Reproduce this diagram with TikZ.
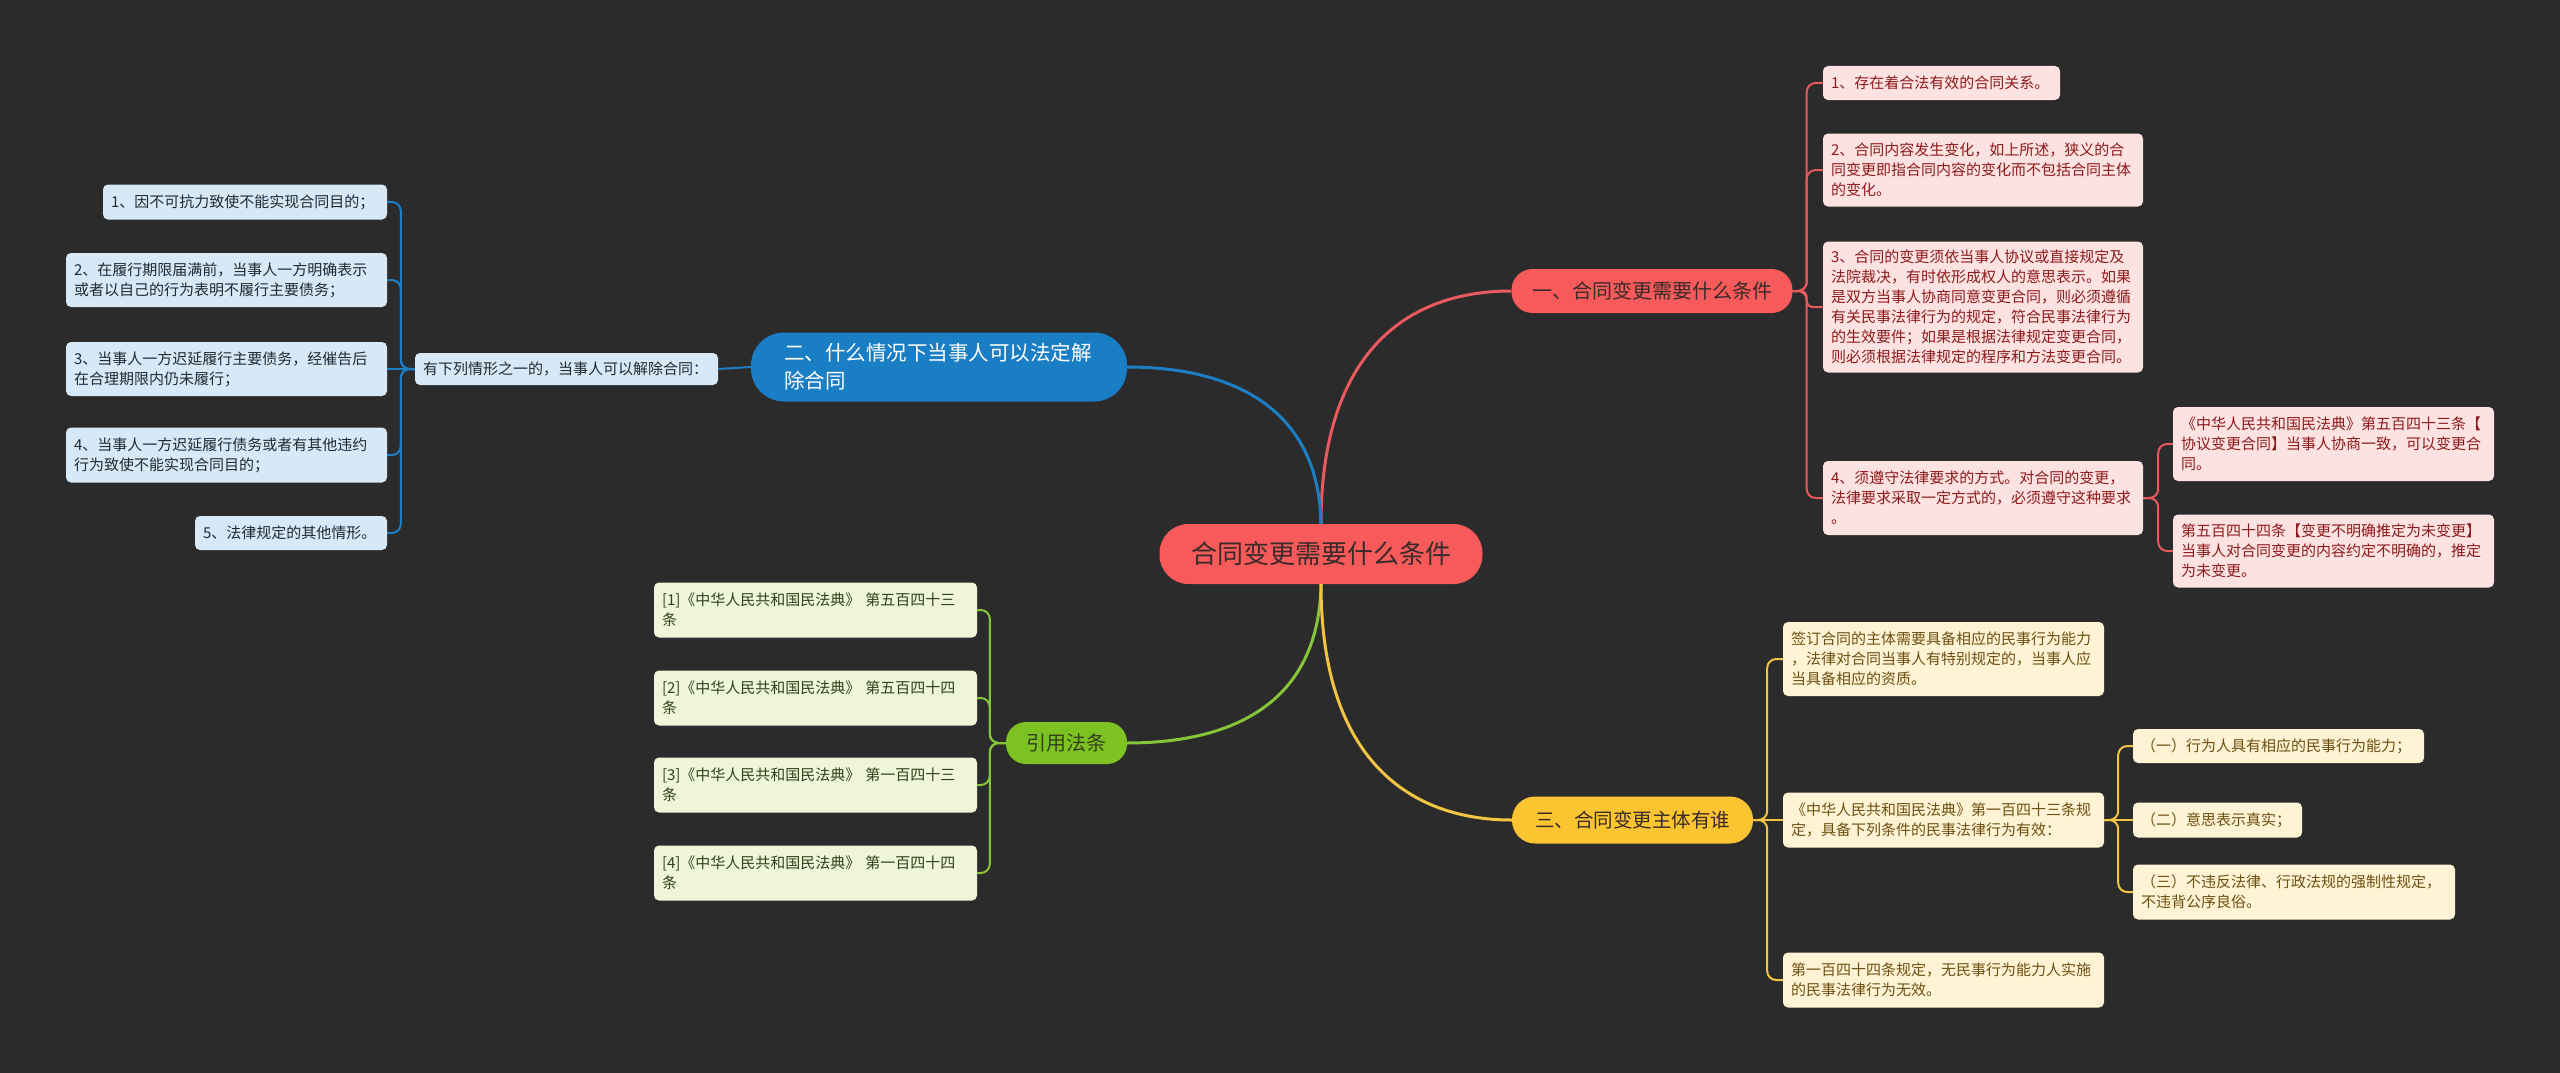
\documentclass[tikz,border=0pt]{standalone}
\usepackage{fontspec}
\setmainfont{Noto Sans CJK SC}
\definecolor{bg}{HTML}{2B2B2B}
\definecolor{redmain}{HTML}{F65A5A}
\definecolor{redline}{HTML}{E85A5E}
\definecolor{redleaf}{HTML}{FDE2E2}
\definecolor{redtxt}{HTML}{8E1B1B}
\definecolor{bluemain}{HTML}{1A7EC5}
\definecolor{blueline}{HTML}{1C7FC6}
\definecolor{blueleaf}{HTML}{D7E9F6}
\definecolor{bluetxt}{HTML}{1F2A33}
\definecolor{greenmain}{HTML}{7DC223}
\definecolor{greenline}{HTML}{86C43A}
\definecolor{greenleaf}{HTML}{EEF5D9}
\definecolor{greentxt}{HTML}{33401A}
\definecolor{yelmain}{HTML}{FBC531}
\definecolor{yelline}{HTML}{F2C443}
\definecolor{yelleaf}{HTML}{FEF3D4}
\definecolor{yeltxt}{HTML}{6E5012}
\definecolor{darktxt}{HTML}{3A2A2A}
\begin{document}
\begin{tikzpicture}[x=1pt,y=-1pt,
  txt/.style={inner xsep=8pt, inner ysep=0pt, align=left, rounded corners=5pt, font=\fontsize{15}{20}\selectfont},
  rleaf/.style={txt, fill=redleaf, text=redtxt},
  bleaf/.style={txt, fill=blueleaf, text=bluetxt},
  gleaf/.style={txt, fill=greenleaf, text=greentxt},
  yleaf/.style={txt, fill=yelleaf, text=yeltxt},
  pill/.style={inner sep=0pt, align=center},
  conn/.style={line width=2pt, rounded corners=9pt},
  trunk/.style={line width=3pt},
]
\fill[bg] (0,0) rectangle (2560,1073);
\useasboundingbox (0,0) rectangle (2560,1073);

% root
\node[pill, fill=redmain, text=darktxt, minimum width=323pt, minimum height=60pt, rounded corners=29pt, font=\fontsize{26}{30}\selectfont] (root) at (1321,554) {合同变更需要什么条件};

% branch 1 (red)
\node[pill, fill=redmain, text=darktxt, minimum width=281pt, minimum height=44pt, rounded corners=21pt, font=\fontsize{20}{24}\selectfont] (b1) at (1652,291) {一、合同变更需要什么条件};
\node[rleaf, text width=221pt, minimum height=34pt] (r1) at (1941.5,83) {1、存在着合法有效的合同关系。};
\node[rleaf, text width=304pt, minimum height=73pt] (r2) at (1983,170) {2、合同内容发生变化，如上所述，狭义的合\\同变更即指合同内容的变化而不包括合同主体\\的变化。};
\node[rleaf, text width=304pt, minimum height=131pt] (r3) at (1983,307) {3、合同的变更须依当事人协议或直接规定及\\法院裁决，有时依形成权人的意思表示。如果\\是双方当事人协商同意变更合同，则必须遵循\\有关民事法律行为的规定，符合民事法律行为\\的生效要件；如果是根据法律规定变更合同，\\则必须根据法律规定的程序和方法变更合同。};
\node[rleaf, text width=304pt, minimum height=74pt] (r4) at (1983,498) {4、须遵守法律要求的方式。对合同的变更，\\法律要求采取一定方式的，必须遵守这种要求\\。};
\node[rleaf, text width=305pt, minimum height=74pt] (r4a) at (2333.5,444) {《中华人民共和国民法典》第五百四十三条【\\协议变更合同】当事人协商一致，可以变更合\\同。};
\node[rleaf, text width=305pt, minimum height=73pt] (r4b) at (2333.5,551) {第五百四十四条【变更不明确推定为未变更】\\当事人对合同变更的内容约定不明确的，推定\\为未变更。};

% branch 2 (blue)
\node[inner xsep=33pt, inner ysep=0pt, align=left, text width=310pt, minimum height=69pt, rounded corners=33pt, fill=bluemain, text=white, font=\fontsize{20.5}{28}\selectfont] (b2) at (939,367) {二、什么情况下当事人可以法定解\\除合同};
\node[bleaf, text width=287pt, minimum height=32pt] (mid) at (566.5,369) {有下列情形之一的，当事人可以解除合同：};
\node[bleaf, text width=268pt, minimum height=35pt] (l1) at (245,202) {1、因不可抗力致使不能实现合同目的；};
\node[bleaf, text width=305pt, minimum height=54pt] (l2) at (226.5,280) {2、在履行期限届满前，当事人一方明确表示\\或者以自己的行为表明不履行主要债务；};
\node[bleaf, text width=305pt, minimum height=54pt] (l3) at (226.5,369) {3、当事人一方迟延履行主要债务，经催告后\\在合理期限内仍未履行；};
\node[bleaf, text width=305pt, minimum height=55pt] (l4) at (226.5,455) {4、当事人一方迟延履行债务或者有其他违约\\行为致使不能实现合同目的；};
\node[bleaf, text width=176pt, minimum height=34pt] (l5) at (291,533) {5、法律规定的其他情形。};

% branch 3 (green)
\node[pill, fill=greenmain, text=greentxt, minimum width=121pt, minimum height=42pt, rounded corners=20pt, font=\fontsize{20}{24}\selectfont] (gn) at (1066.5,743) {引用法条};
\node[gleaf, text width=307pt, minimum height=55pt] (g1) at (815.5,610) {[1]《中华人民共和国民法典》 第五百四十三\\条};
\node[gleaf, text width=307pt, minimum height=55pt] (g2) at (815.5,698) {[2]《中华人民共和国民法典》 第五百四十四\\条};
\node[gleaf, text width=307pt, minimum height=55pt] (g3) at (815.5,785) {[3]《中华人民共和国民法典》 第一百四十三\\条};
\node[gleaf, text width=307pt, minimum height=55pt] (g4) at (815.5,873) {[4]《中华人民共和国民法典》 第一百四十四\\条};

% branch 4 (yellow)
\node[pill, fill=yelmain, text=darktxt, minimum width=241pt, minimum height=47pt, rounded corners=23pt, font=\fontsize{19.5}{24}\selectfont] (b3) at (1632.5,820) {三、合同变更主体有谁};
\node[yleaf, text width=305pt, minimum height=74pt] (y1) at (1943.5,659) {签订合同的主体需要具备相应的民事行为能力\\，法律对合同当事人有特别规定的，当事人应\\当具备相应的资质。};
\node[yleaf, text width=305pt, minimum height=55pt] (y2) at (1943.5,820) {《中华人民共和国民法典》第一百四十三条规\\定，具备下列条件的民事法律行为有效：};
\node[yleaf, text width=305pt, minimum height=55pt] (y3) at (1943.5,980) {第一百四十四条规定，无民事行为能力人实施\\的民事法律行为无效。};
\node[yleaf, text width=275pt, minimum height=34pt] (y2a) at (2278.5,746) {（一）行为人具有相应的民事行为能力；};
\node[yleaf, text width=153pt, minimum height=35pt] (y2b) at (2217.5,820) {（二）意思表示真实；};
\node[yleaf, text width=306pt, minimum height=55pt] (y2c) at (2294,892) {（三）不违反法律、行政法规的强制性规定，\\不违背公序良俗。};

% trunk connectors
\draw[redline, trunk] (root.north) .. controls (1321,360) and (1400,291) .. (b1.west);
\draw[blueline, trunk] (root.north) .. controls (1319,410) and (1235,367) .. (b2.east);
\draw[greenline, trunk] (root.south) .. controls (1319,705) and (1230,743) .. (gn.east);
\draw[yelline, trunk] (root.south) .. controls (1321,760) and (1410,820) .. (b3.west);

% red connectors
\foreach \c in {r1,r2,r4} \draw[redline, conn] (b1.east) -- ++(14,0) |- (\c.west);
\draw[redline, conn, rounded corners=6pt] (b1.east) -- ++(14,0) |- (r3.west);
\foreach \c in {r4a,r4b} \draw[redline, conn] (r4.east) -- ++(15,0) |- (\c.west);

% blue connectors
\draw[blueline, line width=2pt] (b2.west) -- (mid.east);
\foreach \c in {l1,l2,l4,l5} \draw[blueline, conn] (mid.west) -- ++(-14,0) |- (\c.east);
\draw[blueline, line width=2pt] (mid.west) -- (l3.east);

% green connectors
\foreach \c in {g1,g2,g3,g4} \draw[greenline, conn] (gn.west) -- ++(-16,0) |- (\c.east);

% yellow connectors
\foreach \c in {y1,y3} \draw[yelline, conn] (b3.east) -- ++(14,0) |- (\c.west);
\draw[yelline, line width=2pt] (b3.east) -- (y2.west);
\foreach \c in {y2a,y2c} \draw[yelline, conn] (y2.east) -- ++(14,0) |- (\c.west);
\draw[yelline, line width=2pt] (y2.east) -- (y2b.west);
\end{tikzpicture}
\end{document}
